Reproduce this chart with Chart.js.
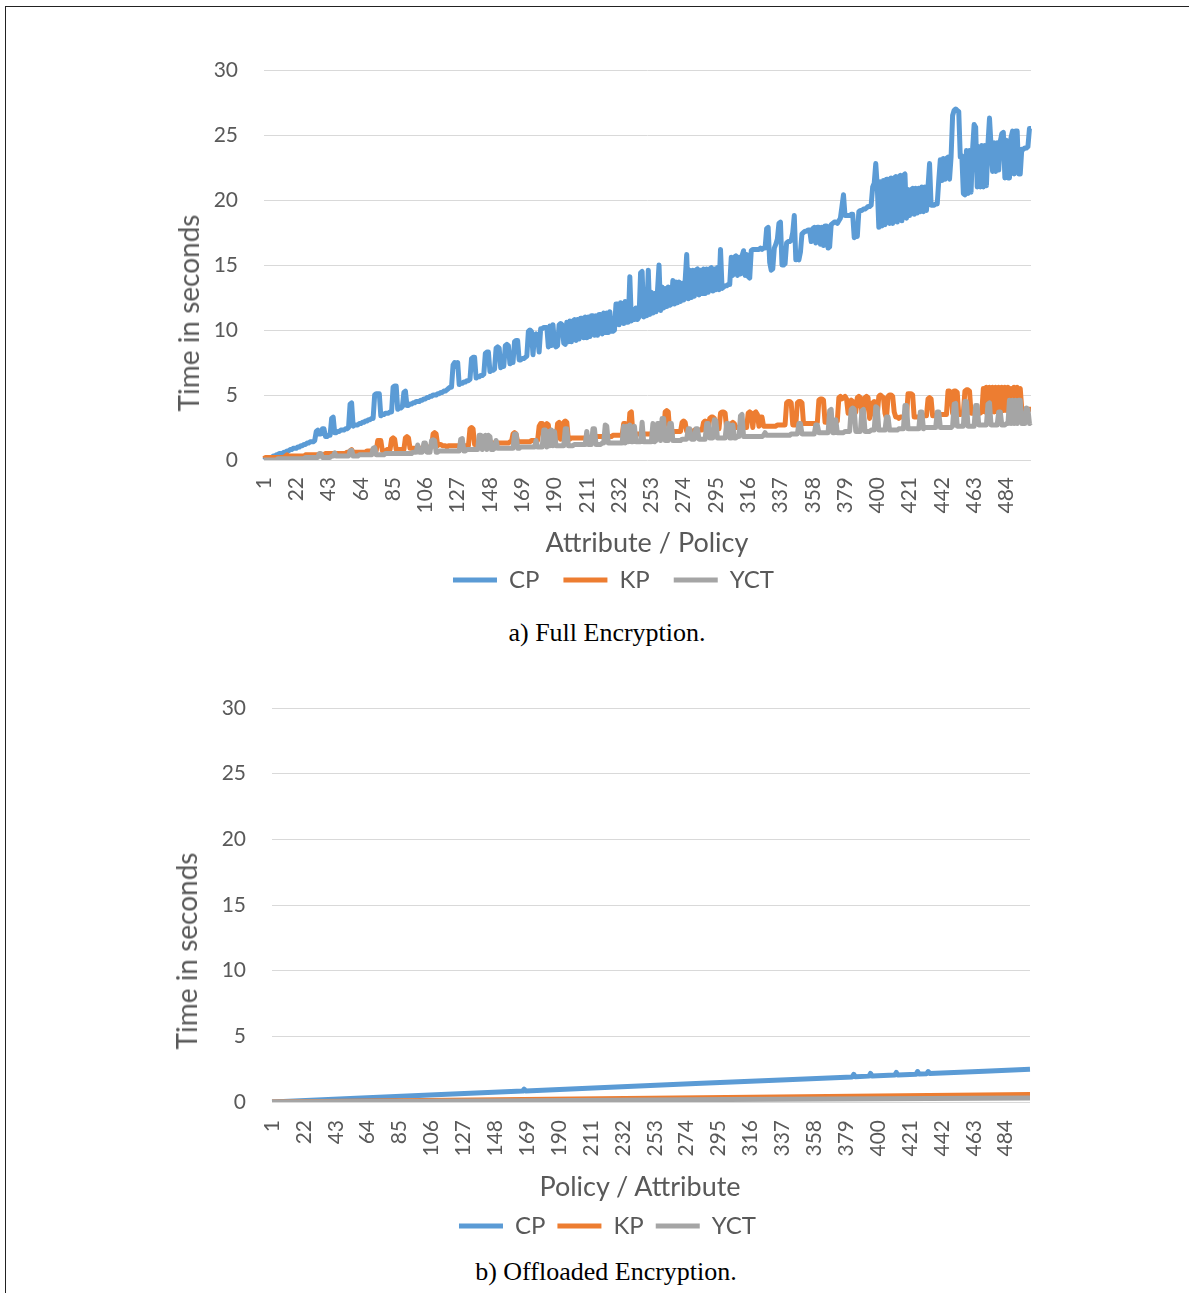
<!DOCTYPE html>
<html>
<head>
<meta charset="utf-8">
<script src="https://cdn.jsdelivr.net/npm/chart.js@4.4.1/dist/chart.umd.min.js"></script>
<style>
  html, body { margin: 0; padding: 0; background: #fff; }
  body { width: 1189px; height: 1293px; position: relative; overflow: hidden; font-family: Lato, "Open Sans", sans-serif; }
  .frame { position: absolute; left: 5px; top: 6px; width: 1300px; height: 1400px; border-top: 1px solid #222; border-left: 1px solid #222; }
  canvas { position: absolute; left: 0; }
  .ytitle { position: absolute; font-size: 28px; line-height: 1; color: #595959; white-space: nowrap; transform: translate(-50%, -50%) rotate(-90deg); }
  .xtitle { position: absolute; font-size: 27px; line-height: 1; color: #595959; white-space: nowrap; transform: translate(-50%, -50%); }
  .caption { position: absolute; font-family: "Liberation Serif", "Times New Roman", serif; font-size: 26px; line-height: 1; color: #000; white-space: nowrap; transform: translate(-50%, -50%); }
</style>
</head>
<body>
<div class="frame"></div>

<canvas id="full" width="1189" height="602" style="top:0px;width:1189px;height:602px;"></canvas>
<div class="ytitle" style="left:188px;top:313px;">Time in seconds</div>
<div class="xtitle" style="left:647px;top:541px;">Attribute / Policy</div>
<div class="caption" style="left:607px;top:633px;">a) Full Encryption.</div>

<canvas id="offloaded" width="1189" height="608" style="top:640px;width:1189px;height:608px;"></canvas>
<div class="ytitle" style="left:186px;top:951px;">Time in seconds</div>
<div class="xtitle" style="left:640px;top:1185px;">Policy / Attribute</div>
<div class="caption" style="left:606px;top:1272px;">b) Offloaded Encryption.</div>

<script>
// Attribute / policy counts 1..500 along the horizontal axis
const attrLabels = Array.from({ length: 500 }, (_, k) => String(k + 1));
const tickLabels = ['1','22','43','64','85','106','127','148','169','190','211','232','253','274','295','316','337','358','379','400','421','442','463','484'];
const yTicks = [0, 5, 10, 15, 20, 25, 30];

// a) Full encryption times (seconds)
const fullCP = [
  0,0.1,0.1,0.1,0.2,0.2,0.3,0.3,0.4,0.4,
  0.5,0.5,0.5,0.6,0.6,0.7,0.7,0.8,0.8,0.9,
  0.9,0.9,1.0,1.0,1.1,1.1,1.2,1.2,1.3,1.3,
  1.4,1.4,1.4,1.5,2.2,2.3,2.0,2.0,2.4,2.4,
  1.8,1.8,1.9,1.9,3.2,3.3,2.1,2.1,2.2,2.2,
  2.3,2.3,2.3,2.4,2.4,2.5,4.3,4.4,2.6,2.7,
  2.7,2.7,2.8,2.8,2.9,2.9,3.0,3.0,3.1,3.1,
  3.2,3.2,5.0,5.1,5.1,5.1,3.4,3.5,3.5,3.6,
  3.6,3.6,3.7,3.7,5.6,5.7,5.7,3.9,4.0,4.0,
  4.1,5.2,5.3,4.2,4.2,4.3,4.3,4.4,4.4,4.5,
  4.5,4.5,4.6,4.6,4.7,4.7,4.8,4.8,4.9,4.9,
  5.0,5.0,5.0,5.1,5.1,5.2,5.2,5.3,5.3,5.4,
  5.5,5.6,5.6,7.3,7.5,7.2,7.5,5.8,5.9,5.9,
  6.0,6.0,6.1,6.1,6.2,7.8,7.9,7.9,6.3,6.4,
  6.4,6.5,6.5,6.6,8.2,8.3,8.3,6.8,6.9,6.9,
  7.0,8.6,8.7,8.6,7.1,7.2,7.2,8.8,8.9,8.8,
  7.4,7.5,7.5,9.1,9.2,9.2,7.7,7.7,7.8,7.8,
  7.9,8.0,9.9,10.0,9.9,8.1,9.6,9.7,9.6,8.3,
  10.1,10.1,10.2,10.2,10.2,8.7,10.3,8.8,10.4,8.9,
  8.7,8.8,10.4,10.5,10.4,9.0,8.9,10.6,9.1,10.7,
  9.1,10.7,10.8,9.2,10.8,9.3,10.9,10.9,9.4,11.0,
  9.4,11.0,9.5,11.1,11.1,9.6,11.1,9.6,11.2,11.2,
  9.7,11.3,9.8,11.3,9.8,11.4,9.9,9.9,10.0,12.0,
  12.0,10.4,12.1,12.0,10.5,12.2,10.6,10.6,14.1,10.7,
  11.6,10.8,11.7,10.8,11.0,14.4,14.5,11.0,12.8,11.1,
  14.6,11.2,12.9,11.3,12.8,11.4,13.0,15.0,11.5,13.3,
  11.7,13.2,11.8,13.3,11.9,12.0,13.8,12.0,13.7,12.1,
  13.7,12.2,13.6,12.3,13.8,15.8,12.4,14.6,12.5,14.6,
  12.6,14.6,14.7,12.7,14.6,12.8,14.7,12.8,14.7,12.9,
  14.7,14.8,13.0,14.7,13.1,14.8,13.1,16.2,13.2,13.3,
  13.4,13.4,13.5,13.5,15.6,14.2,15.6,15.7,14.2,15.6,
  14.3,15.7,16.1,14.2,15.8,14.1,14.0,16.1,16.2,16.2,
  16.2,16.2,16.2,16.3,16.2,16.3,16.3,17.8,17.9,15.2,
  14.6,14.7,16.3,16.6,17.0,18.2,18.3,15.0,15.0,15.1,
  16.7,16.8,16.8,16.9,17.5,18.8,15.4,15.5,15.4,16.0,
  17.4,17.5,17.6,17.6,17.7,17.7,16.8,17.8,17.9,16.7,
  17.9,17.9,16.6,17.9,16.5,18.0,18.0,16.3,16.4,18.1,
  18.2,18.3,18.3,18.2,18.4,18.6,19.5,20.4,18.8,18.8,
  18.8,18.8,18.9,18.9,17.1,17.2,17.2,19.1,19.2,19.2,
  19.3,19.3,19.4,19.5,19.5,19.6,21.0,21.3,22.8,21.0,
  17.9,21.4,18.0,21.5,18.1,21.6,21.6,18.2,21.7,18.2,
  21.7,21.8,18.3,21.8,21.9,18.4,21.9,22.0,18.6,20.8,
  18.8,20.8,20.9,18.9,20.9,19.0,20.9,19.1,21.0,19.1,
  21.0,19.2,21.0,22.8,19.6,19.6,19.6,19.7,19.7,21.5,
  23.1,21.5,23.2,21.6,23.2,23.3,21.6,23.3,26.5,26.9,
  27.0,26.9,26.8,23.3,23.4,20.5,20.4,23.8,20.5,23.8,
  20.6,23.9,25.8,25.6,21.0,24.1,21.0,24.2,21.0,24.2,
  21.1,24.3,26.3,24.2,22.2,24.4,22.2,24.4,22.3,24.5,
  25.1,25.2,21.7,24.6,21.7,21.7,24.8,25.3,22.0,25.3,
  25.3,22.0,22.0,23.9,23.9,24.0,24.0,24.1,25.5,25.5
];
const fullKP = [
  0.1,0.2,0.2,0.2,0.2,0.2,0.2,0.2,0.2,0.2,
  0.2,0.2,0.2,0.2,0.3,0.4,0.3,0.3,0.3,0.3,
  0.3,0.3,0.3,0.3,0.3,0.3,0.3,0.4,0.4,0.4,
  0.4,0.4,0.4,0.4,0.4,0.4,0.4,0.4,0.4,0.4,
  0.5,0.5,0.5,0.5,0.5,0.5,0.5,0.5,0.5,0.5,
  0.5,0.5,0.5,0.5,0.6,0.6,0.7,0.8,0.6,0.6,
  0.6,0.6,0.6,0.6,0.6,0.6,0.6,0.7,0.7,0.7,
  0.7,0.7,0.7,0.7,1.5,1.5,1.5,0.7,0.7,0.7,
  0.8,0.8,0.8,1.6,1.7,1.6,0.8,0.8,0.8,0.8,
  0.8,0.8,1.7,1.8,1.7,0.9,0.9,0.9,0.9,0.9,
  0.9,0.9,0.9,0.9,0.9,0.9,0.9,1.0,1.0,1.0,
  2.0,2.1,2.0,1.1,1.2,1.2,1.1,1.1,1.1,1.0,
  1.1,1.1,1.1,1.1,1.1,1.1,1.1,1.1,1.1,1.1,
  1.1,1.1,1.1,1.1,2.4,2.5,2.4,1.2,1.2,1.2,
  1.2,1.2,1.2,1.2,1.2,1.2,1.2,1.3,1.3,1.3,
  1.3,1.3,1.3,1.3,1.3,1.3,1.3,1.3,1.3,1.3,
  1.4,1.4,2.0,2.1,2.0,1.4,1.4,1.4,1.4,1.4,
  1.4,1.4,1.4,1.4,1.5,1.5,1.5,1.5,1.5,2.6,
  2.8,2.8,1.5,2.7,2.8,2.7,1.5,1.6,1.6,1.6,
  1.6,2.8,2.9,1.6,1.7,2.9,3.0,2.9,1.6,1.6,
  1.7,1.7,1.7,1.7,1.7,1.7,1.7,1.7,1.7,1.7,
  1.7,1.7,1.7,1.7,1.8,1.8,1.8,1.8,1.8,1.8,
  1.8,1.8,1.8,1.8,1.8,1.8,1.8,1.9,1.9,1.9,
  1.9,1.9,1.9,1.9,2.8,2.8,1.9,1.9,3.6,3.7,
  2.0,2.0,2.0,2.0,2.0,2.0,2.0,2.0,2.0,2.0,
  2.0,2.0,2.0,2.0,2.1,2.1,2.1,2.1,2.1,2.1,
  2.1,3.7,3.8,3.7,2.1,2.1,2.1,2.2,2.2,2.2,
  2.2,2.2,2.9,3.0,2.9,2.2,2.2,2.2,2.2,2.2,
  2.3,2.3,2.3,2.3,2.3,2.3,2.9,3.0,2.9,2.3,
  3.2,3.3,3.3,3.2,2.4,2.4,2.4,3.6,3.7,3.7,
  3.6,2.4,2.4,2.4,2.8,2.9,2.8,2.5,2.5,2.5,
  2.5,2.5,2.5,2.5,2.5,3.6,3.7,3.6,2.5,3.6,
  3.7,3.5,2.6,3.3,3.3,2.6,2.6,2.6,2.6,2.6,
  2.6,2.6,2.6,2.6,2.7,2.7,2.7,2.7,2.7,2.7,
  4.4,4.5,4.5,4.4,2.7,2.7,2.7,4.4,4.5,4.5,
  4.4,2.8,2.8,2.8,2.8,2.8,2.8,2.8,2.8,2.8,
  2.9,4.6,4.7,4.7,4.6,2.9,2.9,2.9,2.9,2.9,
  2.9,2.9,2.9,3.0,4.8,4.9,4.7,4.8,4.9,4.7,
  3.6,4.5,4.6,4.5,3.5,3.7,4.8,4.9,4.8,3.6,
  3.4,4.8,4.9,4.8,3.2,3.6,4.4,4.5,4.4,3.5,
  4.9,5.0,4.9,4.8,3.6,3.2,4.9,5.0,5.0,4.9,
  3.7,3.3,3.3,3.2,3.3,3.3,3.3,3.3,3.3,5.1,
  5.1,5.1,5.0,3.3,3.3,3.3,3.3,3.4,3.4,3.4,
  3.4,3.4,4.7,4.8,4.7,3.4,3.4,3.4,3.4,3.4,
  3.5,3.5,3.5,3.5,3.5,5.3,5.3,5.2,3.6,5.3,
  5.3,5.2,3.5,3.5,3.6,3.6,5.3,5.4,5.4,5.3,
  3.6,3.6,3.6,3.6,3.6,3.6,3.6,3.7,5.5,3.7,
  5.6,3.7,5.6,3.7,5.6,3.7,5.6,3.7,5.6,3.7,
  5.6,3.8,5.6,3.8,5.6,3.8,5.5,3.8,5.6,3.8,
  5.6,3.8,5.5,3.9,3.9,3.9,3.9,3.9,3.9,3.9
];
const fullYCT = [
  0.0,0.0,0.0,0.0,0.0,0.0,0.0,0.0,0.0,0.1,
  0.1,0.1,0.1,0.1,0.1,0.1,0.1,0.1,0.1,0.1,
  0.1,0.1,0.1,0.1,0.1,0.1,0.1,0.2,0.2,0.2,
  0.2,0.2,0.2,0.2,0.2,0.2,0.5,0.5,0.2,0.2,
  0.2,0.2,0.2,0.2,0.3,0.3,0.55,0.3,0.3,0.3,
  0.3,0.3,0.3,0.3,0.3,0.3,0.7,0.75,0.3,0.3,
  0.3,0.3,0.4,0.4,0.4,0.4,0.4,0.4,0.4,0.4,
  0.4,0.9,0.95,0.4,0.4,0.4,0.4,0.4,0.4,0.5,
  0.5,0.5,0.5,0.5,0.5,0.5,0.5,0.5,0.5,0.5,
  0.5,0.5,0.5,0.5,0.5,0.5,0.5,0.6,0.6,0.6,
  1.15,0.6,0.6,0.6,1.3,1.3,0.6,0.6,0.6,1.5,
  1.55,1.5,0.6,0.6,0.7,0.7,0.7,0.7,0.7,0.7,
  0.7,0.7,0.7,0.7,0.7,0.7,0.7,0.7,1.6,1.65,
  0.7,0.7,0.8,0.8,0.8,0.8,0.8,0.8,0.8,0.8,
  1.9,1.9,0.8,1.8,1.9,0.8,1.9,1.8,0.8,0.8,
  0.9,1.5,0.9,0.9,0.9,0.9,0.9,0.9,0.9,0.9,
  0.9,0.9,0.9,2.0,2.0,0.9,0.9,1.0,1.0,1.0,
  1.0,1.0,1.0,1.0,1.0,1.0,1.0,1.5,1.0,1.0,
  1.0,1.0,2.3,2.3,1.0,2.2,1.1,2.3,1.1,2.2,
  1.1,1.1,1.1,1.1,1.1,1.1,2.4,2.4,1.1,1.1,
  1.1,1.1,1.2,1.2,1.2,1.2,1.2,1.2,1.2,1.2,
  2.2,1.2,1.2,1.2,2.4,2.4,1.2,1.2,1.2,1.2,
  1.3,1.3,2.7,2.6,1.3,1.3,1.3,1.3,1.3,1.3,
  1.3,1.3,1.3,1.3,2.6,1.3,2.6,1.4,2.7,1.4,
  1.4,2.6,1.4,1.4,1.4,1.4,2.9,1.4,1.4,1.4,
  1.4,1.4,1.4,2.8,1.4,1.5,2.8,2.8,1.5,3.2,
  3.2,1.5,1.5,1.5,2.8,2.8,1.5,1.5,1.5,1.5,
  1.5,1.5,1.6,1.6,1.6,1.6,2.4,2.4,1.6,1.6,
  1.6,2.4,2.4,1.6,1.6,1.6,1.6,1.6,2.8,2.8,
  1.7,1.7,1.7,3.1,3.0,1.7,1.7,1.7,1.7,1.7,
  1.7,2.8,2.8,1.7,1.7,2.7,1.7,1.7,1.8,1.8,
  3.4,3.5,1.8,1.8,1.8,1.8,1.8,1.8,1.8,1.8,
  1.8,1.8,1.8,1.8,1.8,1.9,2.1,1.9,1.9,1.9,
  1.9,1.9,1.9,1.9,1.9,1.9,1.9,1.9,1.9,1.9,
  1.9,1.9,1.9,2.0,2.0,2.0,2.0,2.0,2.8,2.8,
  2.0,2.0,2.0,2.0,2.0,2.0,2.0,2.0,2.0,2.7,
  2.7,2.1,2.1,2.1,2.1,2.1,2.1,2.1,3.8,3.9,
  2.1,2.1,3.1,2.1,2.1,2.1,2.1,2.1,2.2,2.2,
  2.2,2.2,3.9,4.0,3.9,2.2,2.2,2.2,2.2,3.8,
  3.9,2.2,2.2,2.2,2.2,2.3,2.3,2.3,4.1,4.0,
  2.3,2.3,2.3,2.3,2.3,3.3,3.3,2.3,2.3,2.3,
  2.3,2.3,2.3,2.4,2.4,2.4,2.4,4.2,4.2,2.4,
  2.4,2.4,2.4,2.4,2.4,2.4,2.4,3.7,3.7,2.4,
  2.5,2.5,2.5,2.5,2.5,2.5,2.5,2.5,3.7,3.7,
  2.5,2.5,2.5,2.5,2.5,2.5,2.5,2.5,2.6,4.3,
  4.35,2.6,2.6,2.6,2.6,2.6,4.5,4.5,2.6,2.6,
  2.6,2.6,2.6,4.2,4.2,2.7,2.7,2.7,2.7,2.7,
  2.7,4.3,4.4,2.7,2.7,2.7,2.7,2.7,3.7,3.7,
  2.7,2.7,2.7,2.8,2.8,4.6,2.8,4.6,2.8,4.6,
  2.8,4.6,4.6,2.8,2.8,2.8,4.0,3.9,2.8,2.9
];

// b) Offloaded encryption times (seconds), read at the listed attribute counts
const offCpAt  = ['1','60','120','166','167','168','220','280','340','383','384','385','394','395','396','411','412','413','425','426','427','432','433','434','470','500'];
const offCpVal = [0,0.3,0.6,0.83,0.98,0.84,1.1,1.4,1.7,1.91,2.1,1.92,1.97,2.18,1.98,2.05,2.25,2.06,2.12,2.32,2.13,2.16,2.32,2.17,2.35,2.5];
const offKpAt  = ['1','100','200','300','400','500'];
const offKpVal = [0,0.11,0.23,0.35,0.46,0.57];
const offYctAt  = ['1','100','200','300','400','500'];
const offYctVal = [0,0.06,0.12,0.19,0.25,0.31];

const COLORS = { CP: '#5B9BD5', KP: '#ED7D31', YCT: '#A5A5A5' };
const TEXT = '#595959';
const tickSet = new Set(tickLabels);

function pairs(at, vals) {
  return at.map((x, k) => ({ x: x, y: vals[k] }));
}

function series(label, data, order) {
  return {
    label: label,
    data: data,
    borderColor: COLORS[label],
    backgroundColor: COLORS[label],
    borderWidth: 5,
    borderJoinStyle: 'round',
    pointRadius: 0,
    pointHoverRadius: 0,
    pointStyle: 'line',
    tension: 0,
    fill: false,
    order: order
  };
}

function options(cfg) {
  return {
    responsive: false,
    animation: false,
    devicePixelRatio: 1,
    events: [],
    layout: { padding: { left: cfg.padLeft, right: cfg.padRight, top: cfg.padTop, bottom: 0 } },
    scales: {
      x: {
        type: 'category',
        offset: false,
        grid: { display: false, drawTicks: false },
        border: { display: false },
        ticks: {
          autoSkip: false,
          minRotation: 90,
          maxRotation: 90,
          padding: cfg.xTickPad,
          color: TEXT,
          font: { family: 'Lato', size: 21 },
          callback: function (value) {
            const lab = this.getLabelForValue(value);
            return tickSet.has(lab) ? lab : '';
          }
        },
        afterFit: function (scale) { scale.height = cfg.xAxisHeight; }
      },
      y: {
        min: yTicks[0],
        max: yTicks[yTicks.length - 1],
        afterBuildTicks: function (scale) { scale.ticks = yTicks.map(v => ({ value: v })); },
        ticks: { padding: 26, color: TEXT, font: { family: 'Lato', size: 21 } },
        grid: { color: '#D9D9D9', lineWidth: 1, drawTicks: false },
        border: { display: false },
        afterFit: function (scale) { scale.width = cfg.yAxisWidth; }
      }
    },
    plugins: {
      legend: {
        position: 'bottom',
        labels: {
          usePointStyle: true,
          pointStyleWidth: 44,
          padding: cfg.legendPad,
          color: TEXT,
          font: { family: 'Lato', size: 24 },
          sort: (a, b) => a.datasetIndex - b.datasetIndex
        }
      },
      tooltip: { enabled: false },
      title: { display: false }
    }
  };
}

new Chart(document.getElementById('full'), {
  type: 'line',
  data: {
    labels: attrLabels,
    datasets: [
      series('CP', fullCP, 3),
      series('KP', fullKP, 2),
      series('YCT', fullYCT, 1)
    ]
  },
  options: options({ padLeft: 196, padRight: 158, padTop: 70, yAxisWidth: 68, xAxisHeight: 84, xTickPad: 17, legendPad: 24 })
});

new Chart(document.getElementById('offloaded'), {
  type: 'line',
  data: {
    labels: attrLabels,
    datasets: [
      series('CP', pairs(offCpAt, offCpVal), 3),
      series('KP', pairs(offKpAt, offKpVal), 2),
      series('YCT', pairs(offYctAt, offYctVal), 1)
    ]
  },
  options: options({ padLeft: 185, padRight: 159, padTop: 68, yAxisWidth: 87, xAxisHeight: 100, xTickPad: 18, legendPad: 12 })
});
</script>
</body>
</html>
